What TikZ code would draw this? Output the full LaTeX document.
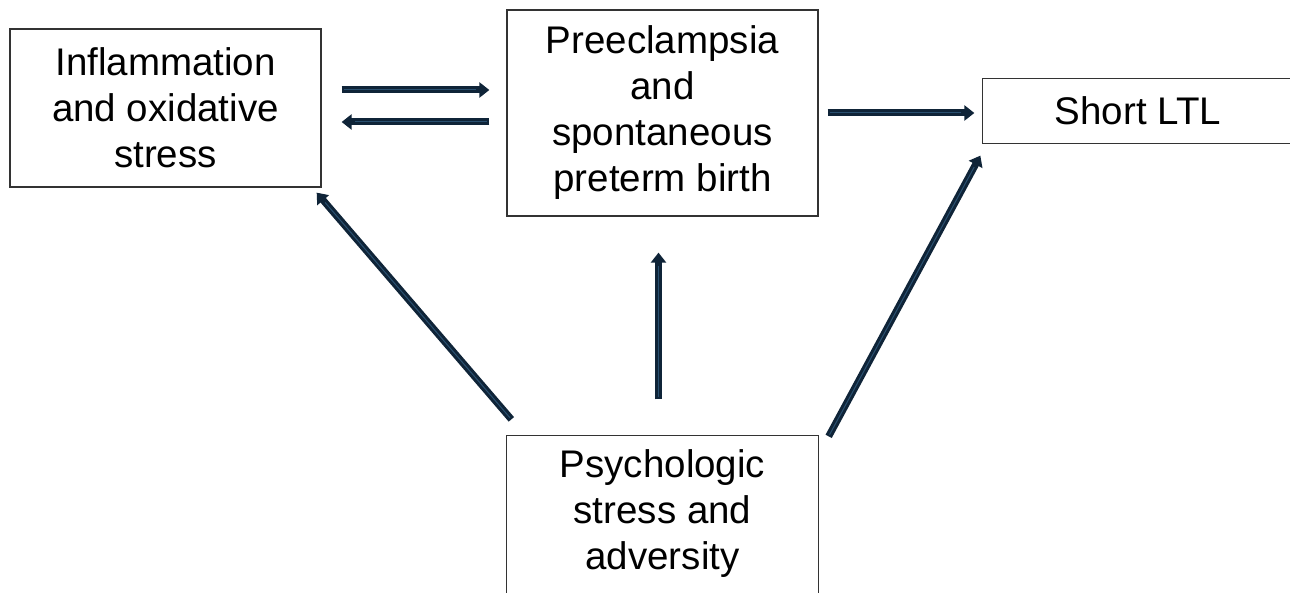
\documentclass[tikz,border=0pt]{standalone}
\usepackage{fontspec}
\setmainfont{Liberation Sans}
\usetikzlibrary{arrows.meta,calc}
\definecolor{navyout}{HTML}{0F2438}
\definecolor{navyin}{HTML}{2A5070}
\definecolor{boxline}{HTML}{333333}
\begin{document}
\begin{tikzpicture}[x=1pt,y=-1pt,
  box/.style={draw=boxline, line width=1.3pt, align=center, inner sep=0pt,
    font=\fontsize{38.5}{46}\selectfont},
  openbox/.style={box, draw=none},
  fatarrow/.style={draw=navyout, line width=7pt, -{Triangle[length=10pt,width=15pt]}},
  fatinner/.style={draw=navyin, line width=1pt}]
\useasboundingbox (0,0) rectangle (1290,593);
\fill[white] (0,0) rectangle (1290,593);
\node[box, minimum width=311pt, minimum height=158pt] (inf) at (165.5,108) {Inflammation\\and oxidative\\stress};
\node[box, minimum width=311pt, minimum height=206pt] (pre) at (662.5,113) {Preeclampsia\\and\\spontaneous\\preterm birth};
\node[openbox, minimum width=310pt, minimum height=64pt] (ltl) at (1138,111) {Short LTL};
\draw[boxline, line width=1.3pt] ($(ltl.north east)+(5,0)$) -- (ltl.north west) -- (ltl.south west) -- ($(ltl.south east)+(5,0)$);
\node[openbox, minimum width=311pt, minimum height=156pt] (psy) at (662.5,514) {Psychologic\\stress and\\adversity};
\draw[boxline, line width=1.3pt] ($(psy.south west)+(0,10)$) -- (psy.north west) -- (psy.north east) -- ($(psy.south east)+(0,10)$);
\coordinate (ya) at (0,90);
\coordinate (yb) at (0,122);
\coordinate (yc) at (0,113);
% inflammation -> preeclampsia
\draw[fatarrow, shorten <=20pt, shorten >=17pt] (inf.east |- ya) -- (pre.west |- ya);
\draw[fatinner, shorten <=22pt, shorten >=30pt] (inf.east |- ya) -- (pre.west |- ya);
% preeclampsia -> inflammation
\draw[fatarrow, shorten <=17pt, shorten >=20pt] (pre.west |- yb) -- (inf.east |- yb);
\draw[fatinner, shorten <=19pt, shorten >=33pt] (pre.west |- yb) -- (inf.east |- yb);
% preeclampsia -> short LTL
\draw[fatarrow, shorten <=9pt, shorten >=8pt] (pre.east |- yc) -- (ltl.west |- yc);
\draw[fatinner, shorten <=11pt, shorten >=21pt] (pre.east |- yc) -- (ltl.west |- yc);
% psychologic -> preeclampsia
\draw[fatarrow, shorten <=36pt, shorten >=36pt] ($(psy.north)+(-4,0)$) -- ($(pre.south)+(-4,0)$);
\draw[fatinner, shorten <=38pt, shorten >=49pt] ($(psy.north)+(-4,0)$) -- ($(pre.south)+(-4,0)$);
% psychologic -> inflammation
\coordinate (s1) at ($(psy.north west)+(5,-16)$);
\coordinate (e1) at ($(inf.south east)+(-5,5)$);
\draw[fatarrow] (s1) -- (e1);
\draw[fatinner, shorten <=2pt, shorten >=13pt] (s1) -- (e1);
% psychologic -> short LTL
\coordinate (s2) at ($(psy.north east)+(10,1)$);
\coordinate (e2) at ($(ltl.south west)+(-2,12)$);
\draw[fatarrow] (s2) -- (e2);
\draw[fatinner, shorten <=2pt, shorten >=13pt] (s2) -- (e2);
\end{tikzpicture}
\end{document}
